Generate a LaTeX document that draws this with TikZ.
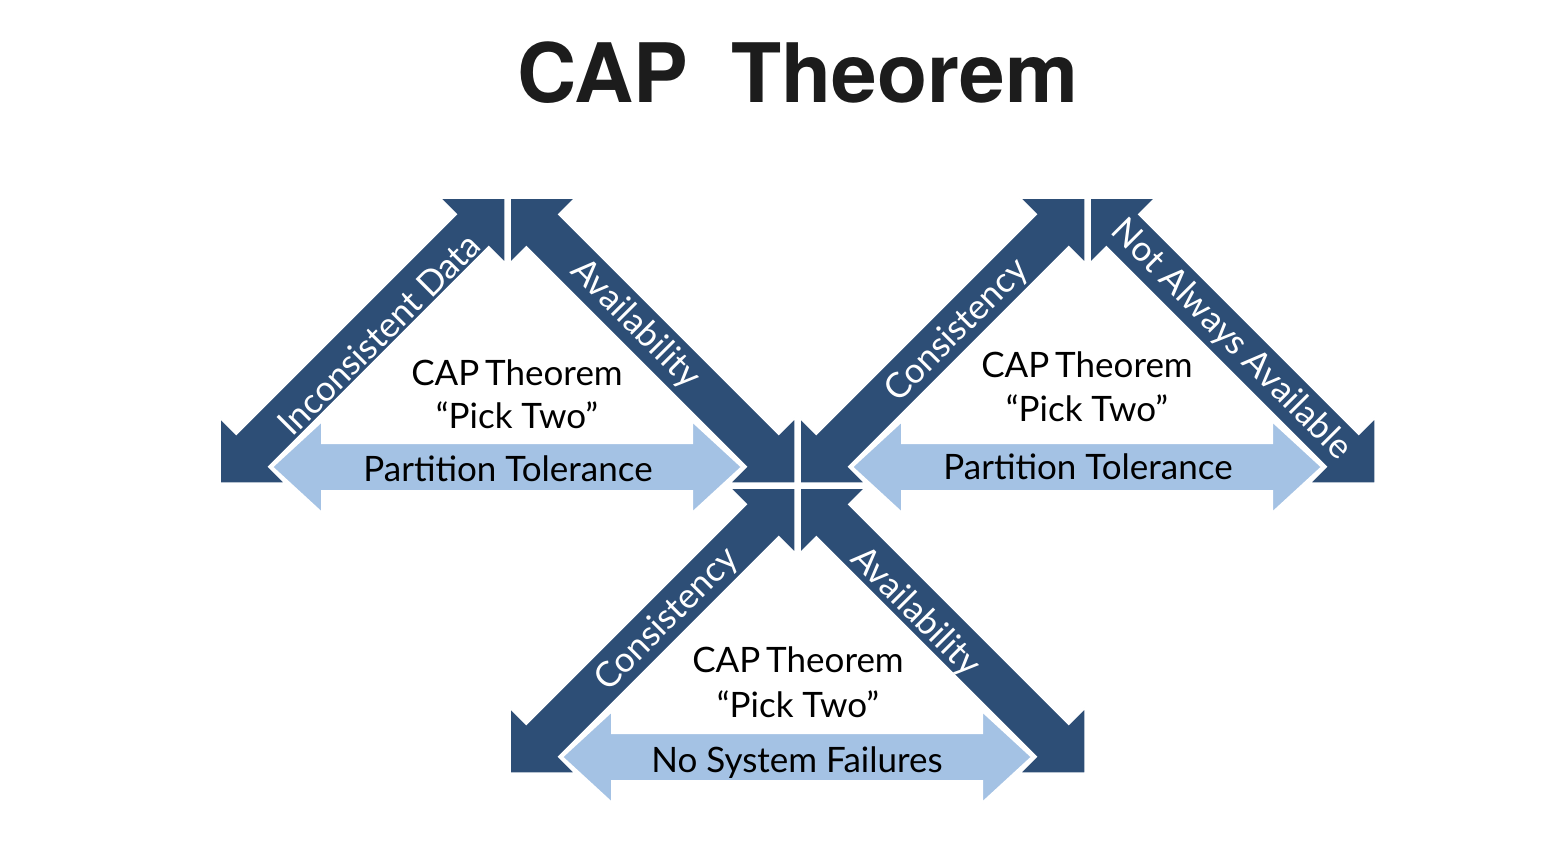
\documentclass[tikz,border=0pt]{standalone}
\usepackage{fontspec}
\setmainfont{Lato}
\newfontfamily\titlefont{TeX Gyre Heros}
\usetikzlibrary{calc}
\definecolor{darkb}{RGB}{45,78,118}
\definecolor{lightb}{RGB}{164,194,228}
\definecolor{titlec}{RGB}{28,28,28}
% #1 style, #2 tip A, #3 tip B, #4 head length, #5 head half-width, #6 shaft half-width
\newcommand\dblarrow[6]{%
  \path[#1] (#2) -- ($(#2)!#4!(#3)!#5!90:(#3)$) -- ($(#2)!#4!(#3)!#6!90:(#3)$)
   -- ($(#3)!#4!(#2)!#6!-90:(#2)$) -- ($(#3)!#4!(#2)!#5!-90:(#2)$) -- (#3)
   -- ($(#3)!#4!(#2)!#5!90:(#2)$) -- ($(#3)!#4!(#2)!#6!90:(#2)$)
   -- ($(#2)!#4!(#3)!#6!-90:(#3)$) -- ($(#2)!#4!(#3)!#5!-90:(#3)$) -- cycle;}
\begin{document}
\begin{tikzpicture}[x=1pt,y=-1pt,
  darkarrow/.style={fill=darkb,draw=white,line width=1.5pt,line join=miter},
  lightarrow/.style={fill=lightb,draw=white,line width=2pt,line join=miter},
  arrowlabel/.style={text=white,font=\fontsize{35}{35}\selectfont,inner sep=0pt,anchor=center},
  innertext/.style={text=black,font=\fontsize{35}{35}\selectfont,inner sep=0pt,anchor=base},
  titletext/.style={text=titlec,font=\titlefont\bfseries\fontsize{82}{82}\selectfont,inner sep=0pt,anchor=base}]
\useasboundingbox[fill=white] (0,0) rectangle (1558,862);

% title
\node[titletext] (title) at (798,102) {CAP\hspace{0.25em} Theorem};

% ---- triangle 1 (top left)
\coordinate (t1la) at (220,483); \coordinate (t1lb) at (505,198);
\coordinate (t1ra) at (510,198); \coordinate (t1rb) at (795,483);
\coordinate (t1pa) at (272,467); \coordinate (t1pb) at (742,467);
% ---- triangle 2 (top right)
\coordinate (t2la) at (800,483); \coordinate (t2lb) at (1085,198);
\coordinate (t2ra) at (1090,198); \coordinate (t2rb) at (1375,483);
\coordinate (t2pa) at (852,467); \coordinate (t2pb) at (1322,467);
% ---- triangle 3 (bottom)
\coordinate (t3la) at (510,773); \coordinate (t3lb) at (795,488);
\coordinate (t3ra) at (800,488); \coordinate (t3rb) at (1085,773);
\coordinate (t3pa) at (562,757); \coordinate (t3pb) at (1032,757);

% dark arrows
\dblarrow{darkarrow}{t1la}{t1lb}{46pt}{46pt}{23pt}
\dblarrow{darkarrow}{t1ra}{t1rb}{46pt}{46pt}{23pt}
\dblarrow{darkarrow}{t2la}{t2lb}{46pt}{46pt}{23pt}
\dblarrow{darkarrow}{t2ra}{t2rb}{46pt}{46pt}{23pt}
\dblarrow{darkarrow}{t3la}{t3lb}{46pt}{46pt}{23pt}
\dblarrow{darkarrow}{t3ra}{t3rb}{46pt}{46pt}{23pt}
% light arrows
\dblarrow{lightarrow}{t1pa}{t1pb}{50pt}{46pt}{24pt}
\dblarrow{lightarrow}{t2pa}{t2pb}{50pt}{46pt}{24pt}
\dblarrow{lightarrow}{t3pa}{t3pb}{50pt}{46pt}{24pt}

% labels on dark arrows
\node[arrowlabel,rotate=45] (l1a) at (379,334) {Inconsistent Data};
\node[arrowlabel,rotate=-45] (l1b) at (635,324) {Availability};
\node[arrowlabel,rotate=45] (l2a) at (957,331) {Consistency};
\node[arrowlabel,rotate=-45] (l2b) at (1231,340) {Not Always Available};
\node[arrowlabel,rotate=45] (l3a) at (667,620) {Consistency};
\node[arrowlabel,rotate=-45] (l3b) at (915,612) {Availability};

% inner texts
\node[innertext] (c1) at (517,385) {CAP\,Theorem};
\node[innertext] (p1) at (517,428) {“Pick Two”};
\node[innertext] (b1) at (508,481) {Partition Tolerance};
\node[innertext] (c2) at (1087,377) {CAP\,Theorem};
\node[innertext] (p2) at (1087,421) {“Pick Two”};
\node[innertext] (b2) at (1088,479) {Partition Tolerance};
\node[innertext] (c3) at (798,672) {CAP\,Theorem};
\node[innertext] (p3) at (798,717) {“Pick Two”};
\node[innertext] (b3) at (797,772) {No System Failures};
\end{tikzpicture}
\end{document}
